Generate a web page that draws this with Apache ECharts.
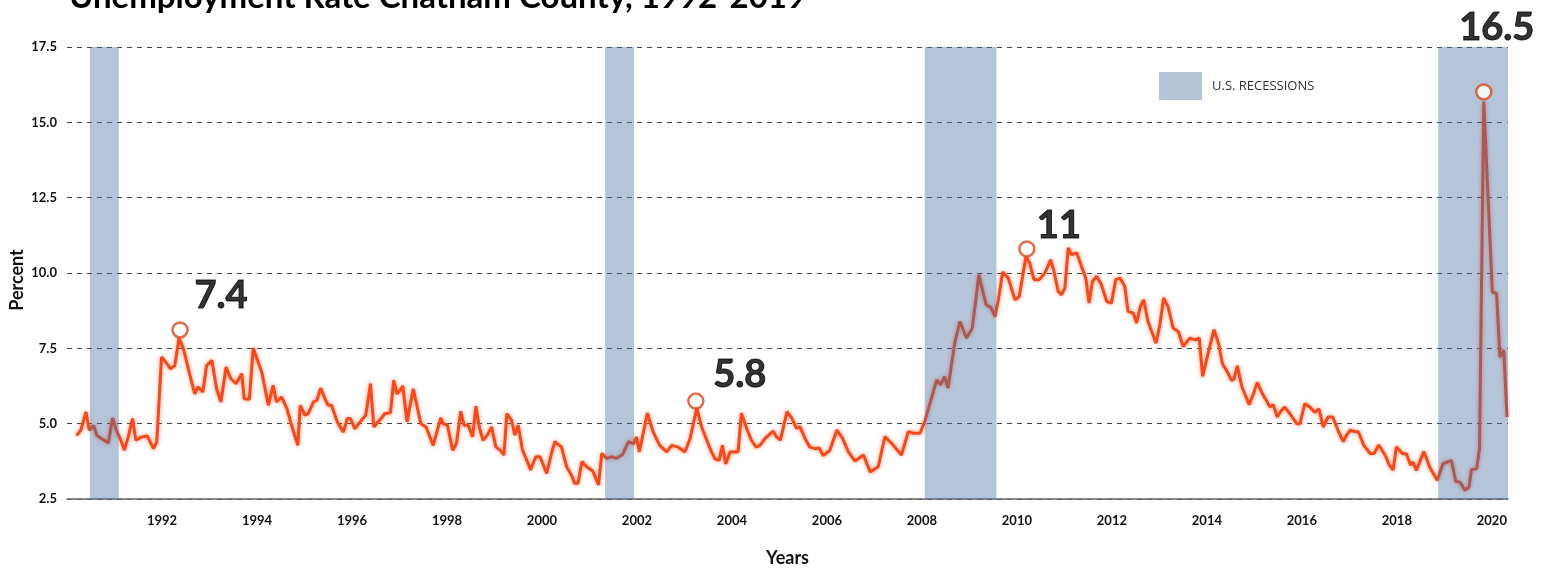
<!DOCTYPE html>
<html>
<head>
<meta charset="utf-8">
<title>Unemployment Rate Chatham County</title>
<script src="https://cdn.jsdelivr.net/npm/echarts@6/dist/echarts.min.js"></script>
<style>
  html, body { margin: 0; padding: 0; background: #fff; }
  #chart { width: 1551px; height: 569px; }
</style>
</head>
<body>
<div id="chart"></div>
<script>
// monthly unemployment rate as [year, percent]
const unemployment = [
  [1990.20,4.61],[1990.29,4.78],[1990.40,5.39],[1990.47,4.78],[1990.56,4.94],[1990.63,4.61],[1990.73,4.50],[1990.87,4.36],
  [1990.96,5.19],[1991.04,4.78],[1991.12,4.50],[1991.21,4.12],[1991.29,4.56],[1991.38,5.17],[1991.45,4.45],[1991.57,4.56],
  [1991.69,4.59],[1991.82,4.17],[1991.89,4.39],[1991.99,7.21],[1992.08,7.04],[1992.18,6.82],[1992.27,6.93],[1992.36,7.84],
  [1992.45,7.49],[1992.59,6.60],[1992.69,5.99],[1992.76,6.22],[1992.86,6.05],[1992.94,6.93],[1993.05,7.10],[1993.15,6.16],
  [1993.24,5.72],[1993.35,6.88],[1993.45,6.49],[1993.56,6.33],[1993.68,6.66],[1993.73,5.83],[1993.84,5.81],[1993.92,7.51],
  [1994.10,6.71],[1994.24,5.61],[1994.34,6.27],[1994.41,5.72],[1994.52,5.88],[1994.63,5.50],[1994.73,4.94],[1994.86,4.28],
  [1994.91,5.61],[1995.01,5.28],[1995.08,5.33],[1995.19,5.72],[1995.26,5.77],[1995.34,6.18],[1995.43,5.83],[1995.50,5.61],
  [1995.57,5.61],[1995.69,5.06],[1995.82,4.72],[1995.90,5.17],[1995.97,5.17],[1996.06,4.83],[1996.17,5.06],[1996.29,5.28],
  [1996.39,6.33],[1996.46,4.89],[1996.58,5.11],[1996.69,5.33],[1996.81,5.36],[1996.88,6.44],[1996.95,5.99],[1997.01,6.10],
  [1997.07,6.25],[1997.16,5.06],[1997.29,6.16],[1997.45,5.00],[1997.56,4.89],[1997.71,4.28],[1997.87,5.19],[1997.92,5.00],
  [1998.01,4.95],[1998.12,4.12],[1998.20,4.34],[1998.29,5.41],[1998.36,4.95],[1998.45,4.95],[1998.54,4.56],[1998.61,5.58],
  [1998.68,4.89],[1998.76,4.45],[1998.85,4.62],[1998.94,4.89],[1999.03,4.23],[1999.12,4.12],[1999.20,3.96],[1999.26,5.33],
  [1999.36,5.11],[1999.43,4.62],[1999.50,4.95],[1999.59,4.12],[1999.68,3.79],[1999.76,3.46],[1999.87,3.90],[1999.96,3.90],
  [2000.10,3.35],[2000.20,4.01],[2000.27,4.40],[2000.41,4.23],[2000.52,3.57],[2000.62,3.30],[2000.69,3.02],[2000.76,3.02],
  [2000.84,3.74],[2000.94,3.57],[2001.07,3.43],[2001.19,2.97],[2001.26,4.01],[2001.36,3.85],[2001.47,3.90],[2001.57,3.85],
  [2001.70,3.98],[2001.82,4.40],[2001.93,4.34],[2001.99,4.56],[2002.05,4.06],[2002.22,5.35],[2002.34,4.73],[2002.48,4.28],
  [2002.63,4.06],[2002.73,4.28],[2002.87,4.22],[2003.01,4.06],[2003.12,4.51],[2003.26,5.52],[2003.36,4.90],[2003.54,4.17],
  [2003.64,3.83],[2003.73,3.78],[2003.80,4.28],[2003.87,3.66],[2003.96,4.06],[2004.13,4.06],[2004.20,5.35],[2004.31,4.84],
  [2004.41,4.45],[2004.51,4.22],[2004.59,4.28],[2004.70,4.51],[2004.87,4.75],[2004.94,4.56],[2005.02,4.45],[2005.16,5.40],
  [2005.26,5.18],[2005.36,4.84],[2005.43,4.90],[2005.54,4.51],[2005.64,4.22],[2005.75,4.17],[2005.84,4.19],[2005.92,3.94],
  [2006.06,4.11],[2006.21,4.79],[2006.33,4.51],[2006.45,4.07],[2006.59,3.76],[2006.77,3.96],[2006.91,3.40],[2007.08,3.57],
  [2007.22,4.57],[2007.36,4.35],[2007.57,3.96],[2007.71,4.73],[2007.83,4.68],[2007.96,4.68],[2008.06,5.07],[2008.20,5.84],
  [2008.31,6.45],[2008.39,6.29],[2008.48,6.56],[2008.55,6.18],[2008.69,7.67],[2008.80,8.39],[2008.94,7.84],[2009.06,8.17],
  [2009.20,9.94],[2009.35,8.95],[2009.45,8.86],[2009.54,8.56],[2009.61,9.11],[2009.70,10.03],[2009.82,9.83],[2009.96,9.11],
  [2010.05,9.22],[2010.19,10.55],[2010.27,10.33],[2010.36,9.78],[2010.47,9.78],[2010.59,10.00],[2010.71,10.44],[2010.78,10.06],
  [2010.87,9.39],[2010.94,9.28],[2011.01,9.50],[2011.08,10.83],[2011.15,10.61],[2011.26,10.67],[2011.36,10.22],[2011.45,9.83],
  [2011.52,9.00],[2011.59,9.72],[2011.68,9.89],[2011.78,9.61],[2011.89,9.06],[2011.99,9.00],[2012.08,9.78],[2012.17,9.83],
  [2012.27,9.56],[2012.34,8.73],[2012.45,8.67],[2012.52,8.34],[2012.60,8.89],[2012.67,9.11],[2012.76,8.39],[2012.93,7.67],
  [2013.01,8.28],[2013.09,9.17],[2013.18,8.89],[2013.29,8.17],[2013.40,8.06],[2013.50,7.56],[2013.64,7.84],[2013.75,7.78],
  [2013.84,7.84],[2013.91,6.57],[2014.03,7.36],[2014.15,8.12],[2014.24,7.69],[2014.33,6.97],[2014.42,6.75],[2014.52,6.43],
  [2014.57,6.48],[2014.64,6.92],[2014.74,6.21],[2014.89,5.63],[2014.98,5.99],[2015.06,6.37],[2015.17,5.99],[2015.33,5.55],
  [2015.40,5.63],[2015.48,5.22],[2015.57,5.44],[2015.64,5.55],[2015.75,5.33],[2015.89,5.00],[2015.96,5.00],[2016.06,5.66],
  [2016.17,5.55],[2016.27,5.38],[2016.36,5.49],[2016.45,4.89],[2016.55,5.22],[2016.65,5.22],[2016.76,4.78],[2016.87,4.40],
  [2016.94,4.62],[2017.02,4.78],[2017.13,4.73],[2017.19,4.73],[2017.30,4.29],[2017.44,4.01],[2017.52,4.01],[2017.62,4.29],
  [2017.77,3.90],[2017.84,3.63],[2017.92,3.46],[2017.99,4.23],[2018.12,4.00],[2018.20,4.00],[2018.29,3.62],[2018.34,3.73],
  [2018.41,3.45],[2018.57,4.08],[2018.69,3.56],[2018.85,3.12],[2018.97,3.67],[2019.15,3.78],[2019.24,3.08],[2019.33,3.06],
  [2019.43,2.79],[2019.52,2.90],[2019.57,3.48],[2019.68,3.50],[2019.74,4.17],[2019.83,15.69],[2020.01,9.37],[2020.10,9.32],
  [2020.17,7.21],[2020.25,7.44],[2020.32,5.22]
];

// U.S. recessions (shaded bands)
const recessionStart = [1990.48, 2001.33, 2008.06, 2018.87];
const recessionEnd   = [1991.09, 2001.94, 2009.57, 2020.37];

// highlighted peaks: circle position + printed value
const peakYears  = [1992.38, 2003.24, 2010.21, 2019.83];
const peakMarks  = [8.11, 5.75, 10.80, 16.01];
const peakLabels = ['7.4', '5.8', '11', '16.5'];
const peakOffsets = [[41, -34], [44, -26], [32, -23], [13, -64]];

const yearTicks = [1992, 1994, 1996, 1998, 2000, 2002, 2004, 2006, 2008, 2010, 2012, 2014, 2016, 2018, 2020];

const FONT = 'Lato, "Open Sans", sans-serif';

const chart = echarts.init(document.getElementById('chart'));

const option = {
  backgroundColor: '#fff',
  animation: false,
  title: {
    text: 'Unemployment Rate Chatham County, 1992-2019',
    left: 64,
    top: -24,
    textStyle: { fontFamily: FONT, fontWeight: 'bold', fontSize: 33, color: '#000' },
  },
  legend: {
    data: ['U.S. RECESSIONS'],
    left: 1159,
    top: 72,
    padding: 0,
    icon: 'rect',
    itemWidth: 43,
    itemHeight: 28,
    selectedMode: false,
    textStyle: { fontFamily: '"Open Sans", sans-serif', fontSize: 13, color: '#333', padding: [0, 0, 0, 5] },
  },
  grid: { left: 67, right: 43, top: 47, bottom: 70, containLabel: false, outerBoundsMode: 'none' },
  xAxis: {
    type: 'value',
    min: 1990,
    max: 2020.34,
    interval: 2,
    name: 'Years',
    nameLocation: 'middle',
    nameGap: 50,
    nameTextStyle: { fontFamily: FONT, fontWeight: 'bold', fontSize: 18, color: '#111' },
    axisLine: { show: true, onZero: false, lineStyle: { color: '#666', width: 1.5 } },
    axisTick: { show: false },
    splitLine: { show: false },
    axisLabel: {
      margin: 15,
      fontFamily: FONT,
      fontWeight: 'bold',
      fontSize: 13,
      color: '#111',
      formatter: (v) => (yearTicks.indexOf(v) >= 0 ? String(v) : ''),
    },
  },
  yAxis: {
    type: 'value',
    min: 2.5,
    max: 17.5,
    interval: 2.5,
    name: 'Percent',
    nameLocation: 'middle',
    nameGap: 41,
    nameMoveOverlap: false,
    nameTextStyle: { fontFamily: FONT, fontWeight: 'bold', fontSize: 18, color: '#111', padding: [0, 14, 0, 0] },
    axisLine: { show: false },
    axisTick: { show: false },
    splitLine: { lineStyle: { color: '#444', type: [5, 5], width: 1 } },
    axisLabel: {
      margin: 10,
      fontFamily: FONT,
      fontWeight: 'bold',
      fontSize: 13,
      color: '#111',
      formatter: (v) => v.toFixed(1),
    },
  },
  series: [
    {
      name: 'Rate',
      type: 'line',
      z: 2,
      data: unemployment,
      showSymbol: false,
      symbol: 'none',
      lineStyle: {
        color: '#f24a1c',
        width: 3,
        shadowColor: 'rgba(240, 80, 30, 0.6)',
        shadowBlur: 4,
      },
    },
    {
      // 衰退期阴影, 半透明盖在折线上方
      name: 'U.S. RECESSIONS',
      type: 'bar',
      z: 3,
      data: [],
      itemStyle: { color: '#b3c4d7' },
      markArea: {
        silent: true,
        z: 4,
        itemStyle: { color: 'rgba(70, 110, 160, 0.4)' },
        data: recessionStart.map((s, i) => [{ xAxis: s, yAxis: 17.5 }, { xAxis: recessionEnd[i], yAxis: 2.5 }]),
      },
    },
    {
      name: 'Peaks',
      type: 'scatter',
      z: 5,
      symbol: 'circle',
      symbolSize: 15,
      itemStyle: { color: '#fff', borderColor: '#d9471c', borderWidth: 2.5 },
      data: peakYears.map((y, i) => ({
        value: [y, peakMarks[i]],
        label: {
          show: true,
          formatter: peakLabels[i],
          position: 'inside',
          offset: peakOffsets[i],
          fontFamily: FONT,
          fontWeight: 'bold',
          fontSize: 38,
          color: '#000',
          textBorderColor: '#000',
          textBorderWidth: 1,
        },
      })),
    },
  ],
};

chart.setOption(option);
</script>
</body>
</html>
